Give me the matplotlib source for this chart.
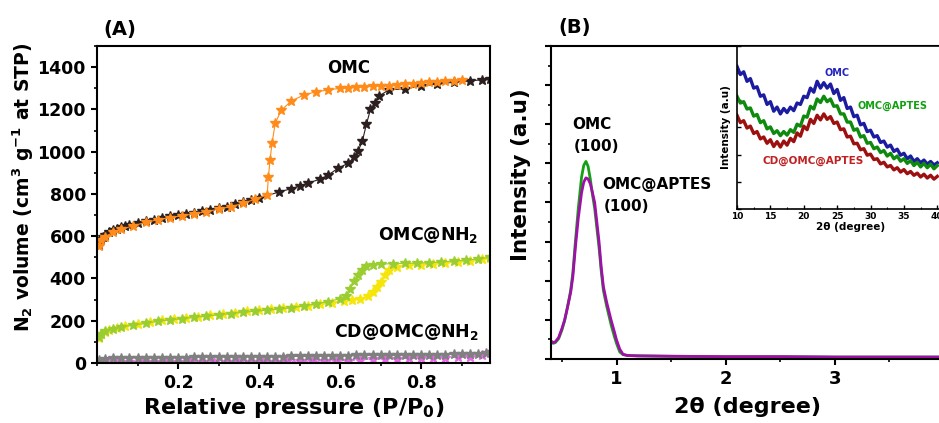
import matplotlib
matplotlib.use("Agg")
import matplotlib.pyplot as plt
from matplotlib.ticker import MultipleLocator, NullFormatter
import numpy as np

plt.rcParams['font.family'] = ['DejaVu Sans']
plt.rcParams['font.weight'] = 'bold'
plt.rcParams['mathtext.fontset'] = 'custom'
plt.rcParams['mathtext.rm'] = 'DejaVu Sans:bold'
plt.rcParams['mathtext.it'] = 'DejaVu Sans:bold'
plt.rcParams['mathtext.bf'] = 'DejaVu Sans:bold'
plt.rcParams['mathtext.default'] = 'regular'

# ---- (A) N2 isotherms ----
p_omc_ads = [0.005, 0.01, 0.015, 0.02, 0.03, 0.04, 0.05, 0.06, 0.07, 0.08, 0.10, 0.12, 0.14, 0.16,
             0.18, 0.20, 0.22, 0.24, 0.26, 0.28, 0.30, 0.32, 0.34, 0.36, 0.38, 0.40, 0.45, 0.48,
             0.50, 0.52, 0.55, 0.57, 0.595, 0.62, 0.635, 0.645, 0.655, 0.665, 0.675, 0.685, 0.695,
             0.72, 0.76, 0.80, 0.84, 0.88, 0.92, 0.95, 0.97]
v_omc_ads = [560, 585, 598, 606, 618, 628, 636, 642, 648, 654, 662, 670, 678, 686,
             694, 700, 706, 712, 718, 725, 732, 740, 750, 760, 770, 780, 810, 825,
             838, 850, 870, 888, 922, 945, 975, 1005, 1050, 1130, 1200, 1228, 1262,
             1292, 1298, 1310, 1320, 1328, 1335, 1340, 1342]
p_omc_des = [0.90, 0.88, 0.86, 0.84, 0.82, 0.80, 0.78, 0.76, 0.74, 0.72, 0.70, 0.68, 0.66, 0.64,
             0.62, 0.60, 0.57, 0.54, 0.51, 0.48, 0.455, 0.44, 0.432, 0.427, 0.423, 0.42, 0.39,
             0.36, 0.33, 0.30, 0.27, 0.24, 0.21, 0.18, 0.15, 0.12, 0.09, 0.06, 0.04, 0.02, 0.01, 0.005]
v_omc_des = [1338, 1336, 1334, 1331, 1328, 1325, 1322, 1319, 1316, 1313, 1311, 1309, 1306, 1304,
             1302, 1300, 1292, 1283, 1268, 1240, 1197, 1135, 1040, 960, 880, 795, 775,
             755, 740, 728, 716, 706, 697, 688, 678, 665, 650, 632, 618, 598, 580, 555]

p_nh2_ads = [0.005, 0.01, 0.02, 0.03, 0.05, 0.07, 0.10, 0.13, 0.16, 0.19, 0.22, 0.25, 0.28, 0.31,
             0.34, 0.37, 0.40, 0.43, 0.46, 0.49, 0.52, 0.55, 0.58, 0.61, 0.63, 0.65, 0.67, 0.68,
             0.69, 0.70, 0.71, 0.72, 0.74, 0.77, 0.80, 0.83, 0.86, 0.89, 0.92, 0.95, 0.97]
v_nh2_ads = [120, 135, 148, 156, 166, 175, 185, 194, 202, 208, 214, 220, 226, 232,
             238, 244, 249, 254, 260, 265, 271, 278, 285, 292, 298, 305, 318, 335,
             360, 385, 415, 438, 455, 462, 466, 470, 474, 478, 484, 490, 495]
p_nh2_des = [0.97, 0.94, 0.91, 0.88, 0.85, 0.82, 0.79, 0.76, 0.73, 0.70, 0.68, 0.665, 0.655, 0.645,
             0.635, 0.625, 0.615, 0.60, 0.57, 0.54, 0.51, 0.48, 0.45, 0.42, 0.39, 0.36, 0.33,
             0.30, 0.27, 0.24, 0.21, 0.18, 0.15, 0.12, 0.09, 0.06, 0.04, 0.02, 0.01, 0.005]
v_nh2_des = [500, 492, 486, 482, 478, 475, 473, 471, 470, 468, 465, 458, 440, 415,
             390, 350, 315, 305, 290, 280, 270, 262, 255, 250, 245, 240, 234,
             228, 222, 216, 210, 204, 197, 188, 180, 170, 162, 150, 138, 122]

p_cd_ads = [0.005, 0.02, 0.04, 0.06, 0.08, 0.10, 0.12, 0.14, 0.16, 0.18, 0.20, 0.22, 0.24, 0.26,
            0.28, 0.30, 0.32, 0.34, 0.36, 0.38, 0.40, 0.42, 0.44, 0.46, 0.48, 0.50, 0.52, 0.54,
            0.56, 0.58, 0.60, 0.62, 0.64, 0.66, 0.68, 0.70, 0.72, 0.74, 0.76, 0.78, 0.80, 0.82,
            0.84, 0.86, 0.88, 0.90, 0.92, 0.94, 0.96, 0.97]
v_cd_ads = [16, 20, 22, 23, 24, 24, 25, 25, 25, 26, 26, 26, 27, 27,
            27, 28, 28, 28, 29, 29, 29, 30, 30, 30, 31, 31, 32, 32,
            33, 34, 35, 35, 36, 36, 36, 37, 37, 37, 38, 38, 38, 39,
            40, 40, 41, 42, 43, 44, 47, 52]
p_cd_des = [0.97, 0.95, 0.92, 0.89, 0.86, 0.83, 0.80, 0.77, 0.74, 0.71, 0.68, 0.65, 0.62, 0.59,
            0.56, 0.53, 0.50, 0.47, 0.44, 0.41, 0.38, 0.35, 0.32, 0.29, 0.26, 0.23, 0.20, 0.17,
            0.14, 0.11, 0.08, 0.05, 0.02]
v_cd_des = [45, 36, 30, 27, 25, 24, 23, 22, 21, 20, 18, 15, 11, 9,
            8, 8, 8, 8, 7, 7, 7, 7, 7, 7, 7, 7, 7, 7,
            7, 7, 7, 8, 9]

# ---- (B) XRD ----
tt_low = [0.40, 0.42, 0.44, 0.47, 0.50, 0.525, 0.55, 0.58, 0.60, 0.625, 0.65, 0.68, 0.70, 0.72,
          0.74, 0.76, 0.78, 0.80, 0.82, 0.84, 0.86, 0.88, 0.91, 0.95, 0.98, 1.00, 1.03, 1.06,
          1.10, 1.20, 1.50, 2.00, 2.50, 3.00, 3.50, 4.00]
i_omc_low = [0.44, 0.40, 0.42, 0.52, 0.74, 0.98, 1.32, 1.75, 2.20, 3.05, 3.85, 4.65, 4.95, 5.05,
             4.92, 4.60, 4.20, 3.85, 3.35, 2.85, 2.25, 1.75, 1.35, 0.88, 0.58, 0.40, 0.18, 0.11,
             0.09, 0.08, 0.07, 0.06, 0.06, 0.05, 0.05, 0.05]
i_apt_low = [0.46, 0.42, 0.44, 0.55, 0.78, 1.00, 1.30, 1.70, 2.10, 2.90, 3.60, 4.25, 4.52, 4.63,
             4.60, 4.48, 4.25, 4.00, 3.50, 3.00, 2.35, 1.85, 1.45, 1.00, 0.70, 0.49, 0.25, 0.12,
             0.09, 0.08, 0.07, 0.06, 0.06, 0.05, 0.05, 0.05]

tt_wide = np.arange(10, 40.01, 0.5)
i_omc_wide = [5.25, 4.95, 5.05, 4.70, 4.80, 4.45, 4.50, 4.15, 4.20, 3.85, 3.95, 3.60, 3.75, 3.50,
              3.70, 3.55, 3.75, 3.62, 3.90, 3.85, 4.15, 4.10, 4.45, 4.30, 4.70, 4.45, 4.65, 4.45,
              4.60, 4.25, 4.40, 4.00, 4.10, 3.70, 3.75, 3.40, 3.45, 3.10, 3.15, 2.85, 2.90, 2.65,
              2.70, 2.45, 2.50, 2.28, 2.35, 2.12, 2.20, 1.98, 2.05, 1.85, 1.95, 1.75, 1.85, 1.70,
              1.80, 1.65, 1.75, 1.62, 1.70]
i_apt_wide = [4.15, 3.90, 3.95, 3.68, 3.72, 3.42, 3.48, 3.18, 3.25, 2.95, 3.02, 2.78, 2.88, 2.70,
              2.85, 2.72, 2.92, 2.82, 3.12, 3.05, 3.42, 3.38, 3.78, 3.68, 4.05, 3.92, 4.15, 3.95,
              4.05, 3.78, 3.80, 3.50, 3.50, 3.20, 3.20, 2.90, 2.95, 2.65, 2.70, 2.42, 2.45, 2.22,
              2.28, 2.08, 2.15, 1.95, 2.05, 1.85, 1.95, 1.76, 1.85, 1.68, 1.78, 1.60, 1.72, 1.55,
              1.68, 1.52, 1.65, 1.48, 1.60]
i_cd_wide = [3.45, 3.18, 3.25, 2.98, 3.05, 2.78, 2.85, 2.58, 2.65, 2.42, 2.55, 2.30, 2.48, 2.28,
             2.50, 2.35, 2.60, 2.48, 2.80, 2.68, 3.05, 2.92, 3.30, 3.15, 3.45, 3.28, 3.50, 3.30,
             3.40, 3.15, 3.20, 2.92, 2.95, 2.65, 2.68, 2.40, 2.42, 2.18, 2.22, 1.98, 2.02, 1.82,
             1.85, 1.66, 1.72, 1.55, 1.60, 1.44, 1.52, 1.36, 1.45, 1.30, 1.38, 1.24, 1.32, 1.18,
             1.28, 1.14, 1.24, 1.10, 1.20]

fig = plt.figure(figsize=(9.39, 4.23), dpi=100, facecolor='white')

# ---------- panel A ----------
axA = fig.add_axes([97/939, 60/423, 393/939, 317/423])
ms = 7
axA.plot(p_omc_ads, v_omc_ads, '-*', color='#2b1f1f', lw=0.8, ms=ms)
axA.plot(p_omc_des, v_omc_des, '-*', color='#ff8c1a', lw=0.8, ms=ms)
axA.plot(p_nh2_ads, v_nh2_ads, '-*', color='#f5e50a', lw=0.8, ms=ms)
axA.plot(p_nh2_des, v_nh2_des, '-*', color='#9acd32', lw=0.8, ms=ms)
axA.plot(p_cd_des, v_cd_des, '--*', color='#ee66ee', lw=0.8, ms=ms)
axA.plot(p_cd_ads, v_cd_ads, '-*', color='#808080', lw=0.8, ms=ms)
axA.set_xlim(0.0, 0.97)
axA.set_ylim(0, 1500)
axA.xaxis.set_major_locator(MultipleLocator(0.2))
axA.xaxis.set_minor_locator(MultipleLocator(0.1))
axA.yaxis.set_major_locator(MultipleLocator(200))
axA.yaxis.set_minor_locator(MultipleLocator(100))
axA.set_xticks([0.2, 0.4, 0.6, 0.8])
axA.tick_params(which='major', direction='out', length=4, width=1.5, labelsize=12.5, pad=4)
axA.tick_params(which='minor', direction='out', length=2.5, width=1.2)
for s in axA.spines.values():
    s.set_linewidth(1.5)
axA.set_xlabel('Relative pressure (P/P$_0$)', fontsize=16, fontweight='bold')
axA.set_ylabel('N$_2$ volume (cm$^3$ g$^{-1}$ at STP)', fontsize=13.5, fontweight='bold')
axA.xaxis.set_label_coords(0.5, -0.105)
axA.yaxis.set_label_coords(-0.155, 0.555)
axA.text(0.62, 1395, 'OMC', ha='center', va='center', fontsize=12, fontweight='bold')
axA.text(0.694, 605, 'OMC@NH$_2$', ha='left', va='center', fontsize=12.5, fontweight='bold')
axA.text(0.585, 147, 'CD@OMC@NH$_2$', ha='left', va='center', fontsize=12.5, fontweight='bold')
fig.text(103/939, 1 - 30/423, '(A)', ha='left', va='center', fontsize=14, fontweight='bold')

# ---------- panel B ----------
axB = fig.add_axes([551/939, 64/423, 393/939, 313/423])
axB.plot(tt_low, i_omc_low, color='#14a014', lw=2)
axB.plot(tt_low, i_apt_low, color='#a010a8', lw=2)
axB.set_xlim(0.4, 4.0)
axB.set_ylim(0, 8)
axB.xaxis.set_major_locator(MultipleLocator(1))
axB.xaxis.set_minor_locator(MultipleLocator(0.5))
axB.yaxis.set_major_locator(MultipleLocator(1))
axB.yaxis.set_minor_locator(MultipleLocator(0.5))
axB.yaxis.set_major_formatter(NullFormatter())
axB.tick_params(which='major', direction='out', length=4, width=1.5, labelsize=13, pad=4)
axB.tick_params(which='minor', direction='out', length=2.5, width=1.2)
for s in axB.spines.values():
    s.set_linewidth(1.5)
axB.set_xlabel('2θ (degree)', fontsize=16, fontweight='bold')
axB.set_ylabel('Intensity (a.u)', fontsize=15.5, fontweight='bold')
axB.xaxis.set_label_coords(0.5, -0.12)
axB.yaxis.set_label_coords(-0.05, 0.59)
axB.text(0.77, 6.0, 'OMC', ha='center', va='center', fontsize=11, fontweight='bold')
axB.text(0.815, 5.44, '(100)', ha='center', va='center', fontsize=11, fontweight='bold')
axB.text(0.87, 4.46, 'OMC@APTES', ha='left', va='center', fontsize=11, fontweight='bold')
axB.text(0.885, 3.9, '(100)', ha='left', va='center', fontsize=11, fontweight='bold')
fig.text(558/939, 1 - 28/423, '(B)', ha='left', va='center', fontsize=14, fontweight='bold')

# ---------- inset ----------
axI = fig.add_axes([737/939, 214/423, 227/939, 163/423])
axI.plot(tt_wide, i_omc_wide, color='#1c1ca0', lw=2.4)
axI.plot(tt_wide, i_apt_wide, color='#0e8a0e', lw=2.4)
axI.plot(tt_wide, i_cd_wide, color='#9c1010', lw=2.4)
axI.set_xlim(10, 44)
axI.set_ylim(0, 6)
axI.xaxis.set_major_locator(MultipleLocator(5))
axI.xaxis.set_minor_locator(MultipleLocator(2.5))
axI.yaxis.set_major_locator(MultipleLocator(1))
axI.yaxis.set_major_formatter(NullFormatter())
axI.tick_params(which='major', direction='in', length=3, width=1, labelsize=6.5, pad=2)
axI.tick_params(which='minor', direction='in', length=1.5, width=0.8)
for s in axI.spines.values():
    s.set_linewidth(1.2)
axI.set_xlabel('2θ (degree)', fontsize=7.5, fontweight='bold', labelpad=1)
axI.set_ylabel('Intensity (a.u)', fontsize=7.5, fontweight='bold', labelpad=2)
axI.text(25.0, 5.02, 'OMC', color='#2424c0', ha='center', va='center', fontsize=7, fontweight='bold')
axI.text(28.1, 3.81, 'OMC@APTES', color='#10a010', ha='left', va='center', fontsize=7, fontweight='bold')
axI.text(13.75, 1.76, 'CD@OMC@APTES', color='#c02020', ha='left', va='center', fontsize=7.5, fontweight='bold')

fig.savefig('out.png', dpi=100)
